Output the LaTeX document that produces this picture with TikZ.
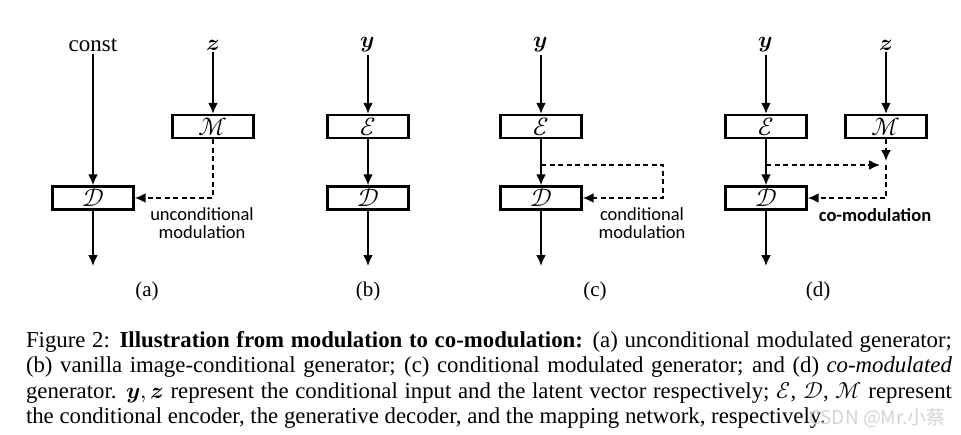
\documentclass[tikz,border=0pt]{standalone}
\usepackage{amsmath}
\usepackage{fontspec}
\usepackage{unicode-math}
\setmainfont{Liberation Serif}
\setmathfont{Latin Modern Math}
\newfontfamily\notefont{Carlito}
\newfontfamily\cjkfont{Noto Sans CJK SC}
\usetikzlibrary{arrows.meta}

\begin{document}
\begin{tikzpicture}[x = 1pt, y = -1pt, > = {Latex[length = 11pt, width = 10pt]}, line width = 2pt,
	blk/.style = {draw, line width = 2.4pt, minimum width = 81pt, minimum height = 23pt, inner sep = 0pt, font = \fontsize{25}{25}\selectfont},
	inp/.style = {inner sep = 1pt, font = \fontsize{23}{25}\selectfont},
	dsh/.style = {dash pattern = on 5pt off 3.5pt},
	note/.style = {align = center, inner sep = 0pt, font = \notefont\fontsize{18.5}{18}\selectfont},
	sub/.style = {inner sep = 0pt, font = \fontsize{21}{24}\selectfont},
	captxt/.style = {text width = 926pt, align = justify, inner sep = 0pt, font = \fontsize{22.8}{25.6}\selectfont}]

	% Page size

	\useasboundingbox (0, 0) rectangle (961, 434);

	% (a) unconditional modulation

	\node [inp] (aC) at (93, 45) {const};
	\node [inp] (aZ) at (213, 45) {$\symbfit{z}$};
	\node [blk] (aM) at (213, 126.5) {$\mathcal{M}$};
	\node [blk] (aD) at (93, 198) {$\mathcal{D}$};
	\coordinate (aO) at (93, 266);

	\draw [->] (aC) -- (aD);
	\draw [->] (aZ) -- (aM);
	\draw [->] (aD) -- (aO);
	\draw [->, dsh] (aM.south) |- (aD.east);

	\node [note] (aN) at (202, 223) {unconditional\\modulation};
	\node [sub] (aL) at (147, 291) {(a)};

	% (b) image-conditional

	\node [inp] (bY) at (368, 45) {$\symbfit{y}$};
	\node [blk] (bE) at (368, 126.5) {$\mathcal{E}$};
	\node [blk] (bD) at (368, 198) {$\mathcal{D}$};
	\coordinate (bO) at (368, 266);

	\draw [->] (bY) -- (bE);
	\draw [->] (bE) -- (bD);
	\draw [->] (bD) -- (bO);

	\node [sub] (bL) at (368, 291) {(b)};

	% (c) conditional modulation

	\node [inp] (cY) at (541, 45) {$\symbfit{y}$};
	\node [blk] (cE) at (541, 126.5) {$\mathcal{E}$};
	\node [blk] (cD) at (541, 198) {$\mathcal{D}$};
	\coordinate (cO) at (541, 266);
	\coordinate (cJ) at (541, 165);
	\coordinate (cR) at (663, 165);

	\draw [->] (cY) -- (cE);
	\draw [->] (cE) -- (cD);
	\draw [->] (cD) -- (cO);
	\draw [->, dsh] (cJ) -- (cR) |- (cD.east);

	\node [note] (cN) at (642, 223) {conditional\\modulation};
	\node [sub] (cL) at (595, 291) {(c)};

	% (d) co-modulation

	\node [inp] (dY) at (766, 45) {$\symbfit{y}$};
	\node [inp] (dZ) at (886, 45) {$\symbfit{z}$};
	\node [blk] (dE) at (766, 126.5) {$\mathcal{E}$};
	\node [blk] (dM) at (886, 126.5) {$\mathcal{M}$};
	\node [blk] (dD) at (766, 198) {$\mathcal{D}$};
	\coordinate (dO) at (766, 266);
	\coordinate (dS) at (766, 165);
	\coordinate (dJ) at (886, 165);

	\draw [->] (dY) -- (dE);
	\draw [->] (dZ) -- (dM);
	\draw [->] (dE) -- (dD);
	\draw [->] (dD) -- (dO);
	\draw [->, dsh, shorten > = 4pt] (dM) -- (dJ);
	\draw [->, dsh, shorten > = 6pt] (dS) -- (dJ);
	\draw [->, dsh] (dJ) |- (dD.east);

	\node [note, font = \notefont\bfseries\fontsize{18.5}{18}\selectfont] (dN) at (875, 215) {co-modulation};
	\node [sub] (dL) at (818, 291) {(d)};

	% Caption

	\node [captxt, anchor = base west] (caption) at (25, 347) {Figure 2: \textbf{Illustration from modulation to co-modulation:} (a) unconditional modulated generator;\linebreak (b) vanilla image-conditional generator; (c) conditional modulated generator; and (d) \textit{co-modulated}\linebreak generator. $\symbfit{y}, \symbfit{z}$ represent the conditional input and the latent vector respectively; $\mathcal{E}$, $\mathcal{D}$, $\mathcal{M}$ represent\linebreak the conditional encoder, the generative decoder, and the mapping network, respectively.};

	\node [anchor = west, inner sep = 0pt, text = gray!40, opacity = 0.85, font = \cjkfont\fontsize{19}{20}\selectfont] (mark) at (808, 418) {CSDN @Mr.小蔡};

\end{tikzpicture}
\end{document}
